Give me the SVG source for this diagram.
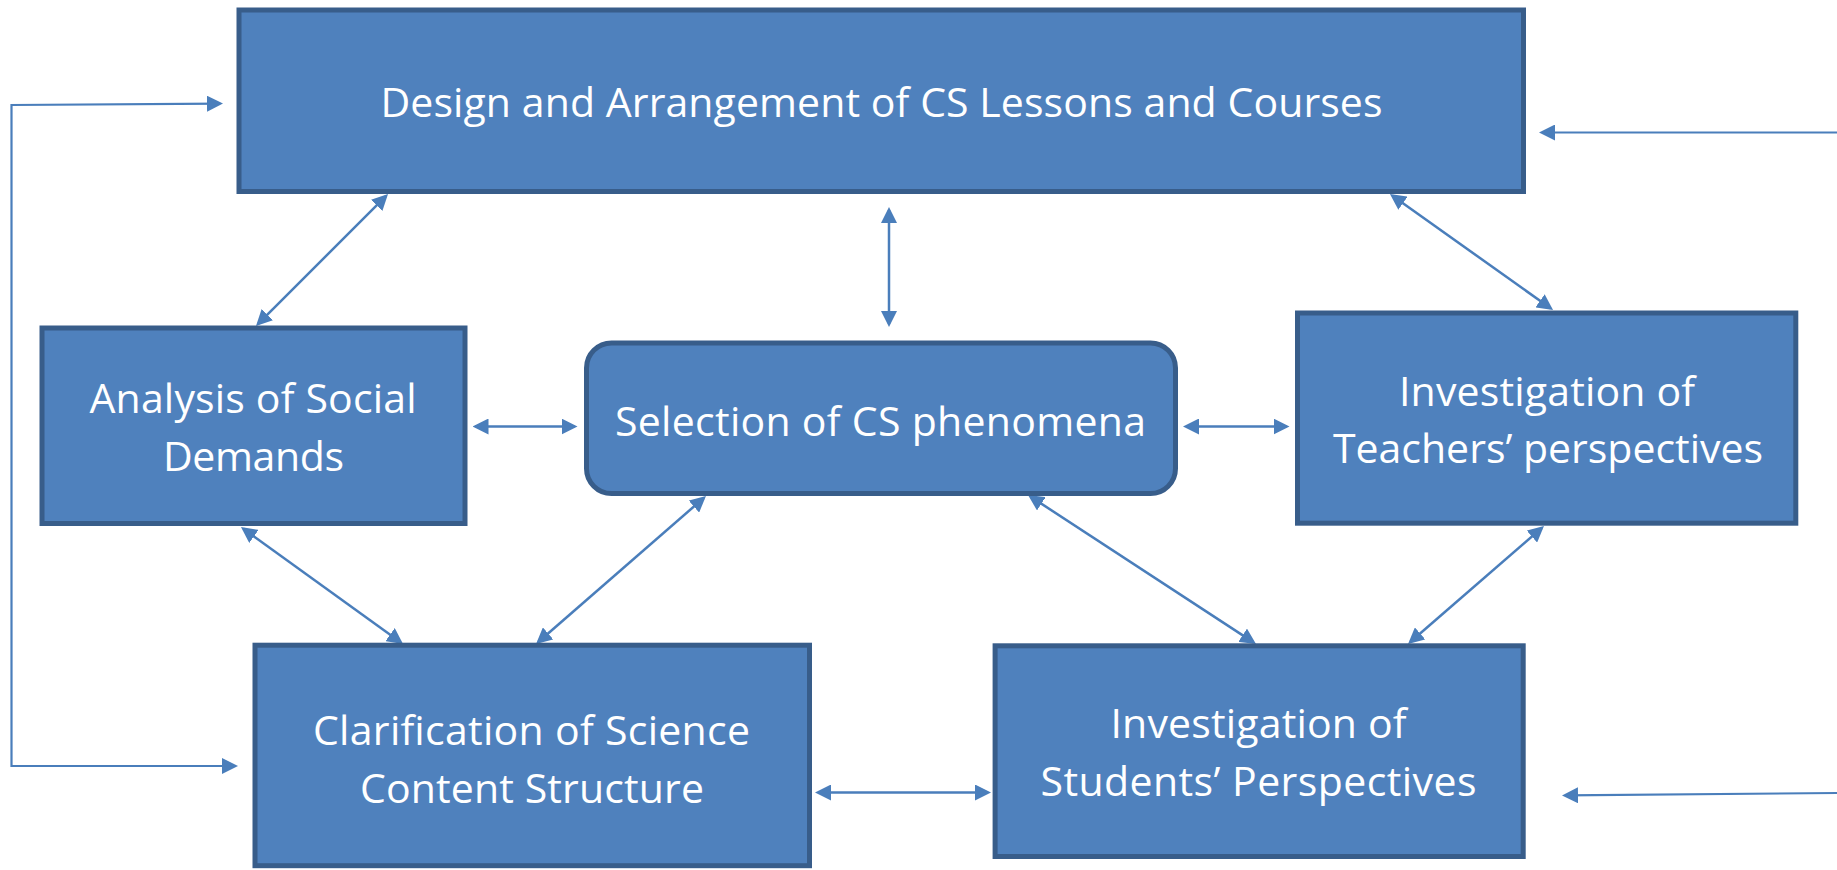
<svg xmlns="http://www.w3.org/2000/svg" width="1837" height="870" viewBox="0 0 1837 870">
  <style>
    .box { fill: #4F81BD; stroke: #385D8A; stroke-width: 5; }
    .label { font-family: "Open Sans", "Noto Sans", "Liberation Sans", sans-serif; font-size: 41px; fill: #FFFFFF; text-anchor: middle; }
    .link { fill: none; stroke: #4A7EBB; stroke-width: 2.5; marker-start: url(#head); marker-end: url(#head); }
    .feed { fill: none; stroke: #4A7EBB; stroke-width: 2.2; marker-end: url(#head); }
  </style>
  <defs>
    <marker id="head" viewBox="0 0 16 16" markerUnits="userSpaceOnUse" markerWidth="16" markerHeight="16" refX="13" refY="8" orient="auto-start-reverse">
      <path d="M0,0 L16,8 L0,16 Z" fill="#4A7EBB"/>
    </marker>
  </defs>

  <rect width="1837" height="870" fill="#FFFFFF"/>

  <!-- connectors -->
  <g id="connectors">
    <line class="link" x1="385.9" y1="196.1" x2="258.1" y2="323.9"/>
    <line class="link" x1="1392.4" y1="195.7" x2="1550.6" y2="308.3"/>
    <line class="link" x1="889" y1="210" x2="889" y2="324"/>
    <line class="link" x1="243.4" y1="528.8" x2="400.6" y2="642.2"/>
    <line class="link" x1="703.7" y1="498" x2="538.3" y2="642"/>
    <line class="link" x1="1030.5" y1="496.6" x2="1253.5" y2="642.4"/>
    <line class="link" x1="1541.7" y1="528" x2="1410.3" y2="642"/>
    <line class="link" x1="475.5" y1="426.5" x2="574.5" y2="426.5"/>
    <line class="link" x1="1186" y1="426.5" x2="1286.5" y2="426.5"/>
    <line class="link" x1="818" y1="792.5" x2="988" y2="792.5"/>
    <!-- feedback loop on the left -->
    <path class="feed" style="marker-start: url(#head)" d="M220,103.6 L11.5,105 L11.5,766 L235,766"/>
    <!-- incoming lines from the right -->
    <path class="feed" d="M1837,132.5 L1542,132.5"/>
    <path class="feed" d="M1837,793 L1565,795.4"/>
  </g>

  <g id="design">
    <rect class="box" x="239" y="10" width="1284.5" height="181.5"/>
    <text class="label" x="881.5" y="116.7" textLength="1002">Design and Arrangement of CS Lessons and Courses</text>
  </g>

  <g id="analysis">
    <rect class="box" x="42" y="328" width="423" height="195.5"/>
    <text class="label" x="253" y="413.3" textLength="327">Analysis of Social</text>
    <text class="label" x="253.5" y="470.7" textLength="181">Demands</text>
  </g>

  <g id="selection">
    <rect class="box" x="586.5" y="343" width="589" height="150.5" rx="25" ry="25"/>
    <text class="label" x="880.5" y="436" textLength="531">Selection of CS phenomena</text>
  </g>

  <g id="teachers">
    <rect class="box" x="1297.5" y="313" width="498.3" height="210.2"/>
    <text class="label" x="1547" y="406" textLength="296">Investigation of</text>
    <text class="label" x="1548" y="463.3" textLength="430">Teachers’ perspectives</text>
  </g>

  <g id="clarification">
    <rect class="box" x="255" y="645.2" width="554.5" height="220.5"/>
    <text class="label" x="531.5" y="745" textLength="437">Clarification of Science</text>
    <text class="label" x="532" y="803" textLength="344">Content Structure</text>
  </g>

  <g id="students">
    <rect class="box" x="995.1" y="645.8" width="528.1" height="210.7"/>
    <text class="label" x="1258.5" y="737.5" textLength="296">Investigation of</text>
    <text class="label" x="1258.5" y="795.5" textLength="436">Students’ Perspectives</text>
  </g>
</svg>
